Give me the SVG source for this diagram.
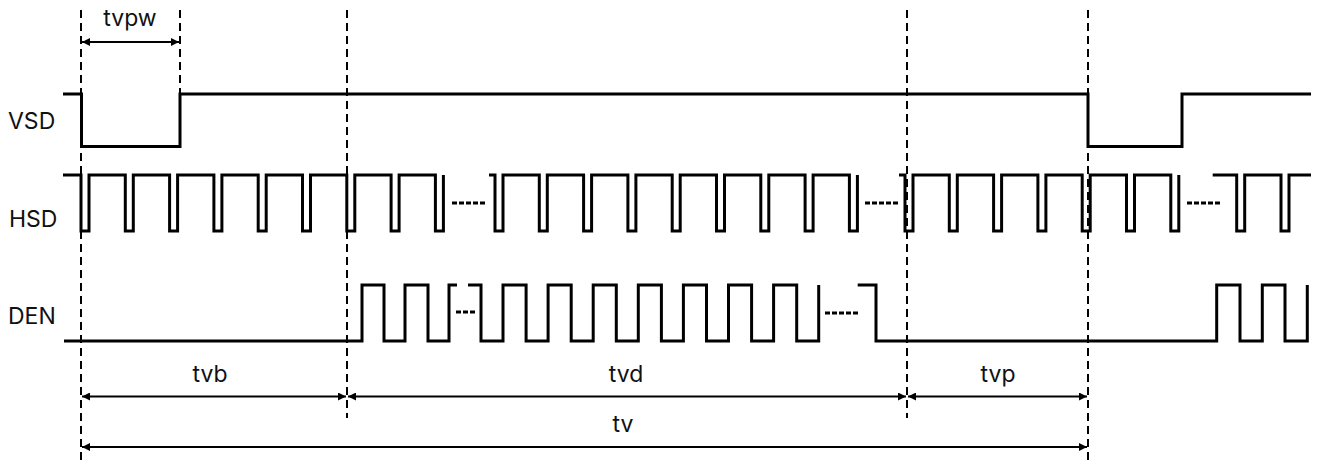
<svg xmlns="http://www.w3.org/2000/svg" width="1318" height="463" viewBox="0 0 1318 463">
<style>
.lbl{font-family:Inter,"Liberation Sans",sans-serif;font-size:23px;fill:#111;}
.tm{font-family:Inter,"Liberation Sans",sans-serif;font-size:23px;fill:#111;text-anchor:middle;}
.wave{fill:none;stroke:#000;stroke-width:3;stroke-linejoin:miter;}
.gap{fill:none;stroke:#000;stroke-width:3;stroke-dasharray:5 2;}
.guide{fill:none;stroke:#000;stroke-width:2;stroke-dasharray:8 5;}
.dim{fill:none;stroke:#000;stroke-width:2;marker-start:url(#ah);marker-end:url(#ah);}
</style>
<defs>
<marker id="ah" viewBox="0 0 10 10" refX="10" refY="5" markerWidth="10" markerHeight="8" markerUnits="userSpaceOnUse" orient="auto-start-reverse">
<path d="M0,0 L10,5 L0,10 Z" fill="#000"/>
</marker>
</defs>
<rect width="1318" height="463" fill="#fff"/>
<g id="guides">
<line class="guide" x1="81" y1="10" x2="81" y2="460"/>
<line class="guide" x1="180" y1="10" x2="180" y2="148"/>
<line class="guide" x1="347" y1="10" x2="347" y2="418"/>
<line class="guide" x1="907" y1="10" x2="907" y2="418"/>
<line class="guide" x1="1088" y1="10" x2="1088" y2="460"/>
</g>
<g id="VSD">
<text class="lbl" x="8" y="129">VSD</text>
<path class="wave" d="M63,94 H81.5 V146.5 H180 V94 H1088 V146.5 H1182 V94 H1311"/>
</g>
<g id="HSD">
<text class="lbl" x="9" y="227">HSD</text>
<path class="wave" d="M63,175 H81 V231 H89 V175 H125.3 V231 H133.3 V175 H169.6 V231 H177.6 V175 H213.9 V231 H221.9 V175 H258.2 V231 H266.2 V175 H302.5 V231 H310.5 V175 H346.8 V231 H354.8 V175 H391.1 V231 H399.1 V175 H435.4 V231 H443.4 V175"/>
<path class="gap" d="M452,203 H485"/>
<path class="wave" d="M489,175 H495 V231 H503 V175 H539.3 V231 H547.3 V175 H583.6 V231 H591.6 V175 H627.9 V231 H635.9 V175 H672.2 V231 H680.2 V175 H716.5 V231 H724.5 V175 H760.8 V231 H768.8 V175 H805.1 V231 H813.1 V175 H849.4 V231 H857.4 V175"/>
<path class="gap" d="M865,203 H898"/>
<path class="wave" d="M899,175 H905 V231 H913 V175 H949.3 V231 H957.3 V175 H993.6 V231 H1001.6 V175 H1037.9 V231 H1045.9 V175 H1082.2 V231 H1090.2 V175 H1126.5 V231 H1134.5 V175 H1170.8 V231 H1178.8 V175"/>
<path class="gap" d="M1187,203 H1220"/>
<path class="wave" d="M1212.7,175 H1236.7 V231 H1244.7 V175 H1281 V231 H1289 V175 H1311"/>
</g>
<g id="DEN">
<text class="lbl" x="8" y="324">DEN</text>
<path class="wave" d="M64,341 H362 V285 H384 V341 H405 V285 H428 V341 H449 V285 H457"/>
<path class="gap" d="M456,312 H475"/>
<path class="wave" d="M468,285 H481 V341 H503 V285 H526.1 V341 H548.1 V285 H571.2 V341 H593.2 V285 H616.3 V341 H638.3 V285 H661.4 V341 H683.4 V285 H706.5 V341 H728.5 V285 H751.6 V341 H773.6 V285 H796.7 V341 H818.7 V285"/>
<path class="gap" d="M825,313 H858"/>
<path class="wave" d="M857.7,285 H876 V341 H1216.7 V285 H1240 V341 H1262.3 V285 H1285 V341 H1307.3 V285"/>
</g>
<g id="connectors">
<line class="dim" x1="82" y1="42" x2="179" y2="42"/>
<line class="dim" x1="82" y1="396.5" x2="346" y2="396.5"/>
<line class="dim" x1="348" y1="396.5" x2="906" y2="396.5"/>
<line class="dim" x1="908" y1="396.5" x2="1087" y2="396.5"/>
<line class="dim" x1="82" y1="447" x2="1087" y2="447"/>
</g>
<g id="timing-labels">
<text class="tm" x="130" y="26">tvpw</text>
<text class="tm" x="210" y="382">tvb</text>
<text class="tm" x="626" y="382">tvd</text>
<text class="tm" x="998" y="382">tvp</text>
<text class="tm" x="623" y="432">tv</text>
</g>
</svg>
